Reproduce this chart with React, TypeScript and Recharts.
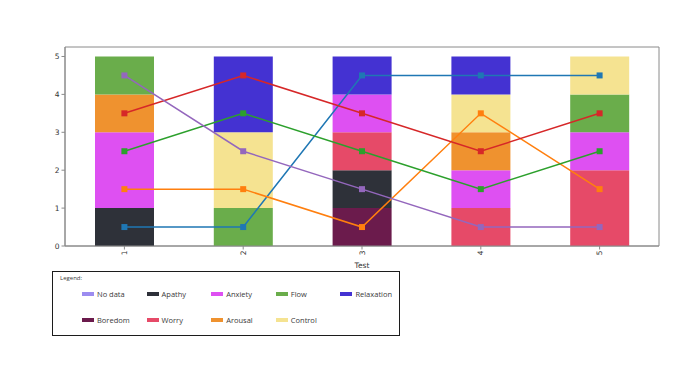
import { ComposedChart, Bar, Line, XAxis, YAxis, ReferenceArea } from "recharts";

const tests = ["1", "2", "3", "4", "5"];

// stacked states, bottom to top
const states = ["Boredom", "Apathy", "Worry", "Anxiety", "Arousal", "Flow", "Control", "Relaxation"];
const boredom = [0, 0, 1, 0, 0];
const apathy = [1, 0, 1, 0, 0];
const worry = [0, 0, 1, 1, 2];
const anxiety = [2, 0, 1, 1, 1];
const arousal = [1, 0, 0, 1, 0];
const flow = [1, 1, 0, 0, 1];
const control = [0, 2, 0, 1, 1];
const relaxation = [0, 2, 1, 1, 0];

const stateColors: Record<string, string> = {
  "No data": "#9c8cf0",
  Apathy: "#2e3139",
  Anxiety: "#de50f2",
  Flow: "#6aad4b",
  Relaxation: "#4432d2",
  Boredom: "#6b1b4c",
  Worry: "#e64a68",
  Arousal: "#ef922f",
  Control: "#f5e391",
};

const legendOrder = ["No data", "Apathy", "Anxiety", "Flow", "Relaxation", "Boredom", "Worry", "Arousal", "Control"];

// position lines
const lineBlue = [0.5, 0.5, 4.5, 4.5, 4.5];
const lineOrange = [1.5, 1.5, 0.5, 3.5, 1.5];
const lineGreen = [2.5, 3.5, 2.5, 1.5, 2.5];
const lineRed = [3.5, 4.5, 3.5, 2.5, 3.5];
const linePurple = [4.5, 2.5, 1.5, 0.5, 0.5];

const lines = [
  { key: "blue", values: lineBlue, color: "#1f77b4" },
  { key: "orange", values: lineOrange, color: "#ff7f0e" },
  { key: "green", values: lineGreen, color: "#2ca02c" },
  { key: "red", values: lineRed, color: "#d62728" },
  { key: "purple", values: linePurple, color: "#9467bd" },
];

const stateValues: Record<string, number[]> = {
  Boredom: boredom,
  Apathy: apathy,
  Worry: worry,
  Anxiety: anxiety,
  Arousal: arousal,
  Flow: flow,
  Control: control,
  Relaxation: relaxation,
};

const data = tests.map((t, i) => {
  const row: Record<string, any> = { test: t };
  states.forEach((s) => (row[s] = stateValues[s][i]));
  lines.forEach((l) => (row[l.key] = l.values[i]));
  return row;
});

const font = "DejaVu Sans, sans-serif";
const axisColor = "#8a8a8a";
const textColor = "#333333";

const XTick = ({ x, y, payload }: any) => (
  <text
    x={x}
    y={y}
    transform={`rotate(-90 ${x} ${y})`}
    textAnchor="end"
    dominantBaseline="central"
    fontSize={7.5}
    fontFamily={font}
    fill={textColor}
  >
    {payload.value}
  </text>
);

const YTick = ({ x, y, payload }: any) => (
  <text x={x} y={y} textAnchor="end" dominantBaseline="central" fontSize={7.5} fontFamily={font} fill={textColor}>
    {payload.value}
  </text>
);

const SquareDot = (color: string) => (props: any) => {
  const { cx, cy, index } = props;
  return <rect key={index} x={cx - 3} y={cy - 3} width={6} height={6} fill={color} />;
};

function ChartLegend() {
  return (
    <div
      style={{
        position: "absolute",
        left: 52,
        top: 271,
        width: 346,
        height: 63,
        border: "1.5px solid #1c1c1c",
        fontFamily: "Open Sans, sans-serif",
        color: "#3a3a3a",
      }}
    >
      <div style={{ position: "absolute", left: 7, top: 2, fontSize: 6 }}>Legend:</div>
      {legendOrder.map((name, i) => {
        const col = i % 5;
        const row = Math.floor(i / 5);
        return (
          <div
            key={name}
            style={{
              position: "absolute",
              left: 29 + col * 64.6,
              top: 17 + row * 26,
              display: "flex",
              alignItems: "center",
              fontSize: 7.5,
              whiteSpace: "nowrap",
            }}
          >
            <span style={{ display: "inline-block", width: 12, height: 4, background: stateColors[name], marginRight: 3 }} />
            {name}
          </div>
        );
      })}
    </div>
  );
}

export default function App() {
  return (
    <div style={{ position: "absolute", left: 0, top: 0, width: 690, height: 388, background: "#fff" }}>
      <ComposedChart
        width={690}
        height={388}
        data={data}
        margin={{ top: 47, right: 31, left: 0, bottom: 120 }}
        barCategoryGap="25%"
      >
        <XAxis
          dataKey="test"
          tick={<XTick />}
          tickSize={3.5}
          tickMargin={1}
          height={22}
          stroke={axisColor}
          interval={0}
          label={{ value: "Test", position: "insideBottom", offset: 0, fontSize: 7.5, fontFamily: font, fill: textColor }}
        />
        <YAxis
          domain={[0, 5.25]}
          ticks={[0, 1, 2, 3, 4, 5]}
          width={65}
          tickSize={3.5}
          tickMargin={2}
          stroke={axisColor}
          tick={<YTick />}
        />
        {states.map((s) => (
          <Bar key={s} dataKey={s} stackId="a" fill={stateColors[s]} barSize={59} isAnimationActive={false} />
        ))}
        {lines.map((l) => (
          <Line
            key={l.key}
            dataKey={l.key}
            type="linear"
            stroke={l.color}
            strokeWidth={1.5}
            dot={SquareDot(l.color)}
            activeDot={false}
            isAnimationActive={false}
          />
        ))}
        <ReferenceArea y1={0} y2={5.25} fill="none" stroke={axisColor} strokeWidth={1} ifOverflow="visible" />
      </ComposedChart>
      <ChartLegend />
    </div>
  );
}
